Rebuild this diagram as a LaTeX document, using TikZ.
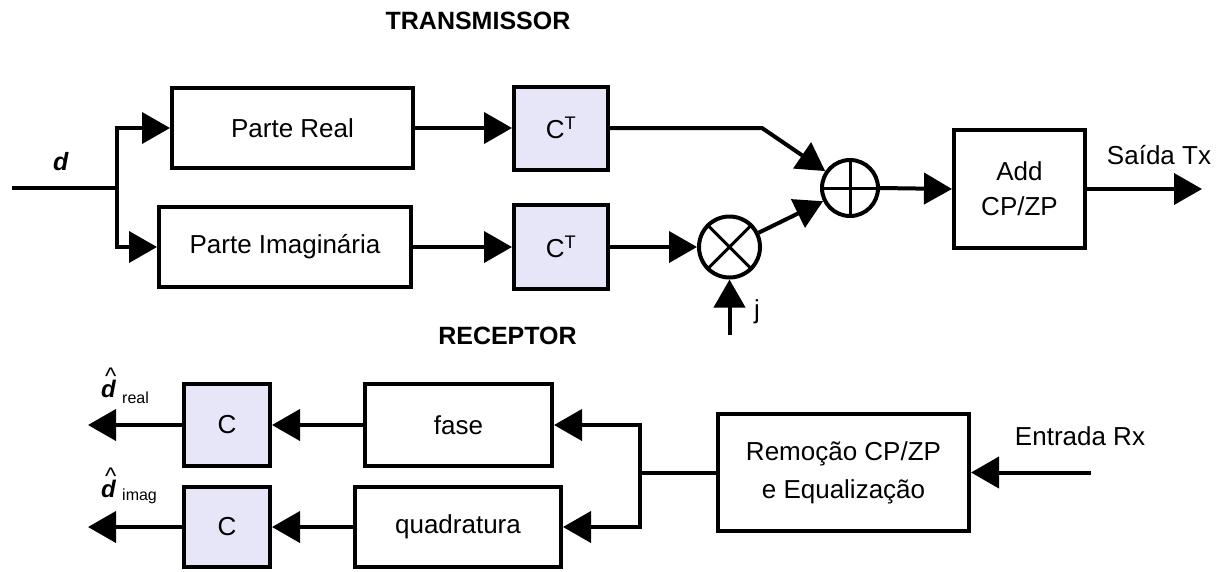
\documentclass[tikz,border=0pt]{standalone}
\usepackage{fontspec}
\setmainfont{Liberation Sans}
\usetikzlibrary{arrows.meta,calc}
\definecolor{lav}{RGB}{230,230,248}
\newcommand{\dhat}{{\fontsize{24}{26}\selectfont\textbf{\textit{d}}}\llap{\raisebox{12.5pt}{\fontsize{24}{24}\selectfont\textasciicircum}}}
\begin{document}
\begin{tikzpicture}[x=1pt,y=-1pt,
  wire/.style={line width=4pt},
  arr/.style={wire,-{Triangle[length=28pt,width=31pt]}},
  box/.style={draw,line width=4pt,inner sep=0pt,font=\fontsize{26}{30}\selectfont},
  cbox/.style={box,fill=lav},
  circ/.style={draw,circle,line width=4pt,inner sep=0pt},
  lab/.style={font=\fontsize{26}{30}\selectfont,inner sep=0pt},
  sublab/.style={font=\fontsize{16}{18}\selectfont,inner sep=0pt},
  ttl/.style={font=\bfseries\fontsize{25}{30}\selectfont,inner sep=0pt}]
\useasboundingbox (0,0) rectangle (1217,571);

% ---------- Transmitter ----------
\node[ttl] (tx) at (478,21) {TRANSMISSOR};
\node[lab,font=\fontsize{25}{28}\selectfont] (dlab) at (61,162) {\textbf{\textit{d}}};

\node[box,minimum width=241pt,minimum height=80pt] (pr) at (292.5,128) {Parte Real};
\node[box,minimum width=252pt,minimum height=80pt] (pi) at (285,247) {Parte Imaginária};
\node[cbox,minimum width=94pt,minimum height=83pt] (ct1) at (561,128) {C\textsuperscript{T}};
\node[cbox,minimum width=94pt,minimum height=84pt] (ct2) at (561,247) {C\textsuperscript{T}};
\node[circ,minimum size=61pt] (mul) at (729.5,247) {};
\node[circ,minimum size=56pt] (add) at (850,188) {};
\node[box,minimum width=131pt,minimum height=118pt,align=center,font=\fontsize{26}{35}\selectfont] (acp) at (1019.5,189) {Add\\CP/ZP};

\draw[line width=3pt] (add.north) -- (add.south) (add.west) -- (add.east);
\draw[line width=3pt] (mul.north west) -- (mul.south east) (mul.north east) -- (mul.south west);

\coordinate (in) at (12,188);
\coordinate (sp) at (117,188);
\coordinate (bend) at (762,128);
\coordinate (jin) at (729.5,335);
\coordinate (out) at (1202,189);

\draw[wire] (in) -- (sp);
\draw[arr] (sp) |- (pr.west);
\draw[arr] (sp) |- (pi.west);
\draw[arr] (pr.east) -- (ct1.west);
\draw[arr] (pi.east) -- (ct2.west);
\draw[arr] (ct1.east) -- (bend) -- (add);
\draw[arr] (ct2.east) -- (mul);
\draw[arr] (mul) -- (add);
\draw[arr] (jin) -- (mul);
\draw[arr] (add.east) -- (acp.west);
\draw[arr] (acp.east) -- (out);

\node[lab] (jlab) at (757,312) {j};
\node[lab] (saida) at (1159,155) {Saída Tx};

% ---------- Receiver ----------
\node[ttl] (rx) at (507.5,336) {RECEPTOR};

\node[box,minimum width=187pt,minimum height=82pt] (fase) at (458.5,425) {fase};
\node[box,minimum width=206pt,minimum height=80pt] (quad) at (458,527) {quadratura};
\node[cbox,minimum width=86pt,minimum height=82pt] (c1) at (227,425) {C};
\node[cbox,minimum width=86pt,minimum height=80pt] (c2) at (227,527) {C};
\node[box,minimum width=251pt,minimum height=117pt,align=center,font=\fontsize{26}{38}\selectfont] (rem) at (843.5,472.5) {Remoção CP/ZP\\e Equalização};

\coordinate (jn) at (640,472.5);
\coordinate (ent) at (1091,472.5);
\coordinate (o1) at (88,425);
\coordinate (o2) at (88,527);

\draw[arr] (rem.west) -- (jn) |- (fase.east);
\draw[arr] (jn) |- (quad.east);
\draw[arr] (fase.west) -- (c1.east);
\draw[arr] (quad.west) -- (c2.east);
\draw[arr] (c1.west) -- (o1);
\draw[arr] (c2.west) -- (o2);
\draw[arr] (ent) -- (rem.east);

\node[lab] (entr) at (1080,436) {Entrada Rx};

\node[lab,anchor=base west] (d1) at (101,397) {\dhat};
\node[sublab,anchor=base west] (d1s) at (122,403) {real};
\node[lab,anchor=base west] (d2) at (101,497) {\dhat};
\node[sublab,anchor=base west] (d2s) at (122,500) {imag};
\end{tikzpicture}
\end{document}
